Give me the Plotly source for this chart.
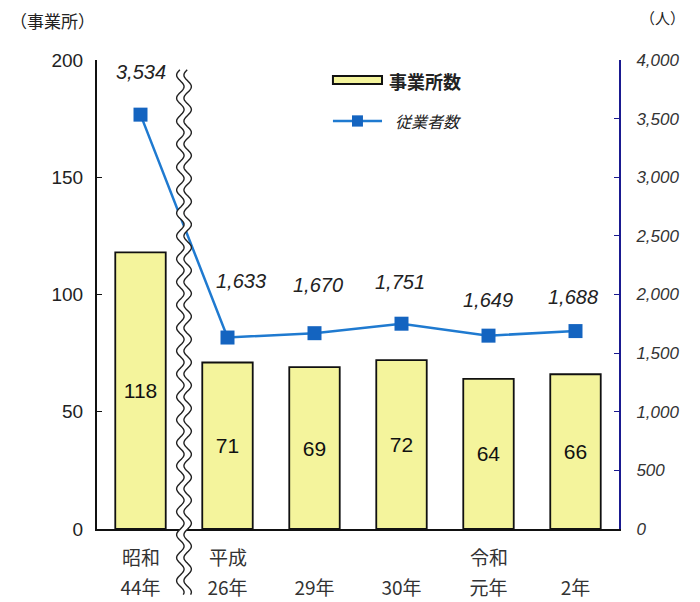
import numpy as np
import plotly.graph_objects as go

eras = ["昭和", "平成", "", "", "令和", ""]
years = ["44年", "26年", "29年", "30年", "元年", "2年"]
establishments = [118, 71, 69, 72, 64, 66]
employees = [3534, 1633, 1670, 1751, 1649, 1688]
employee_labels = ["3,534", "1,633", "1,670", "1,751", "1,649", "1,688"]
left_ticks = [0, 50, 100, 150, 200]
right_ticks = [0, 500, 1000, 1500, 2000, 2500, 3000, 3500, 4000]
right_ticktext = ["0", "500", "1,000", "1,500", "2,000", "2,500", "3,000", "3,500", "4,000"]

xs = list(range(len(years)))
BAR_COLOR = "#f4f49c"
LINE_COLOR = "#1f7ad0"
MARK_COLOR = "#1464c0"

fig = go.Figure()
fig.add_trace(go.Bar(
    x=xs, y=establishments, name="事業所数", showlegend=False,
    marker=dict(color=BAR_COLOR, line=dict(color="#111111", width=1.8)),
    width=0.58,
    text=[str(v) for v in establishments], textposition="inside",
    insidetextanchor="middle", textangle=0,
    textfont=dict(size=21, color="#111111", family="Liberation Sans, Arial"),
))
fig.add_trace(go.Scatter(
    x=xs, y=employees, name="従業者数", yaxis="y2", mode="lines+markers", showlegend=False,
    line=dict(color=LINE_COLOR, width=2.5),
    marker=dict(symbol="square", size=14, color=MARK_COLOR),
))

yshifts = [43, 57, 48, 42, 36, 34]
xshifts = [0, 13, 3, -2, -1, -3]
for i, (v, lab) in enumerate(zip(employees, employee_labels)):
    fig.add_annotation(x=xs[i], y=v, yref="y2", text=f"<i>{lab}</i>", showarrow=False,
                       yshift=yshifts[i], xshift=xshifts[i], yanchor="middle", xanchor="center",
                       font=dict(size=20, color="#222222", family="Liberation Sans, Arial"))

# era names (first line of category labels)
for i, e in enumerate(eras):
    if e:
        fig.add_annotation(x=xs[i], y=-0.058, yref="paper", text=e, showarrow=False,
                           xanchor="center", yanchor="middle",
                           font=dict(size=19, color="#333333", family="Noto Sans CJK JP"))

# axis break decoration
t = np.linspace(0.979, -0.14, 400)
period = 0.049
amp = 0.043
off = 0.042
xc = 0.5 + amp * np.sin(2 * np.pi * t / period)
def pth(xv, yv):
    return "M " + " L ".join(f"{a:.4f},{b:.4f}" for a, b in zip(xv, yv))
band = pth(xc - off, t) + " L " + " L ".join(f"{a:.4f},{b:.4f}" for a, b in zip((xc + off)[::-1], t[::-1])) + " Z"
fig.add_shape(type="path", path=band, xref="x", yref="paper", fillcolor="white",
              line=dict(width=0), layer="above")
for s in (-1, 1):
    fig.add_shape(type="path", path=pth(xc + s * off, t), xref="x", yref="paper",
                  line=dict(color="#222222", width=1.4), layer="above")

# legend (drawn)
fig.add_shape(type="rect", xref="paper", yref="paper", x0=0.452, x1=0.546, y0=0.949, y1=0.966,
              fillcolor=BAR_COLOR, line=dict(color="#111111", width=2))
fig.add_annotation(x=0.556, y=0.956, xref="paper", yref="paper", xanchor="left", yanchor="middle",
                   text="<b>事業所数</b>", showarrow=False,
                   font=dict(size=18, color="#222222", family="Noto Sans CJK JP"))
fig.add_shape(type="line", xref="paper", yref="paper", x0=0.452, x1=0.546, y0=0.870, y1=0.870,
              line=dict(color=LINE_COLOR, width=2.5))
fig.add_shape(type="rect", xref="paper", yref="paper", x0=0.4885, x1=0.5095, y0=0.858, y1=0.882,
              fillcolor=MARK_COLOR, line=dict(width=0))
fig.add_annotation(x=0.567, y=0.870, xref="paper", yref="paper", xanchor="left", yanchor="middle",
                   text="<i>従業者数</i>", showarrow=False,
                   font=dict(size=16, color="#222222", family="Noto Sans CJK JP"))

fig.add_annotation(x=-0.086, y=1.085, xref="paper", yref="paper", text="（事業所）",
                   xanchor="center", yanchor="middle",
                   showarrow=False, font=dict(size=17, color="#222222", family="Noto Sans CJK JP"))
fig.add_annotation(x=1.083, y=1.09, xref="paper", yref="paper", text="（人）",
                   xanchor="center", yanchor="middle",
                   showarrow=False, font=dict(size=15, color="#222222", family="Noto Sans CJK JP"))

fig.update_layout(
    width=692, height=594,
    margin=dict(l=89, r=81, t=52, b=73),
    paper_bgcolor="white", plot_bgcolor="white",
    font=dict(family="Noto Sans CJK JP, Liberation Sans", color="#222222"),
    showlegend=False,
    bargap=0.42,
    xaxis=dict(range=[-0.5, 5.5], tickvals=xs, ticktext=years, showline=True,
               linecolor="#111111", linewidth=2, ticks="", showgrid=False, zeroline=False,
               automargin=False, ticklabelstandoff=41,
               tickfont=dict(size=19, color="#333333", family="Noto Sans CJK JP")),
    yaxis=dict(range=[0, 200], tickvals=left_ticks, showline=True, linecolor="#111111",
               linewidth=2, ticks="inside", ticklen=5, tickcolor="#111111", showgrid=False,
               zeroline=False, automargin=False, ticklabelstandoff=8,
               tickfont=dict(size=19, color="#222222", family="Liberation Sans, Arial")),
    yaxis2=dict(range=[0, 4000], tickvals=right_ticks, ticktext=[f"<i>{s}</i>" for s in right_ticktext],
                overlaying="y", side="right", showline=True, linecolor="#1a1a90", linewidth=2,
                ticks="inside", ticklen=5, tickcolor="#1a1a90", showgrid=False, zeroline=False,
                automargin=False, ticklabelstandoff=12,
                tickfont=dict(size=17, color="#333333", family="Liberation Sans, Arial")),
)

fig.write_html("out.html")
